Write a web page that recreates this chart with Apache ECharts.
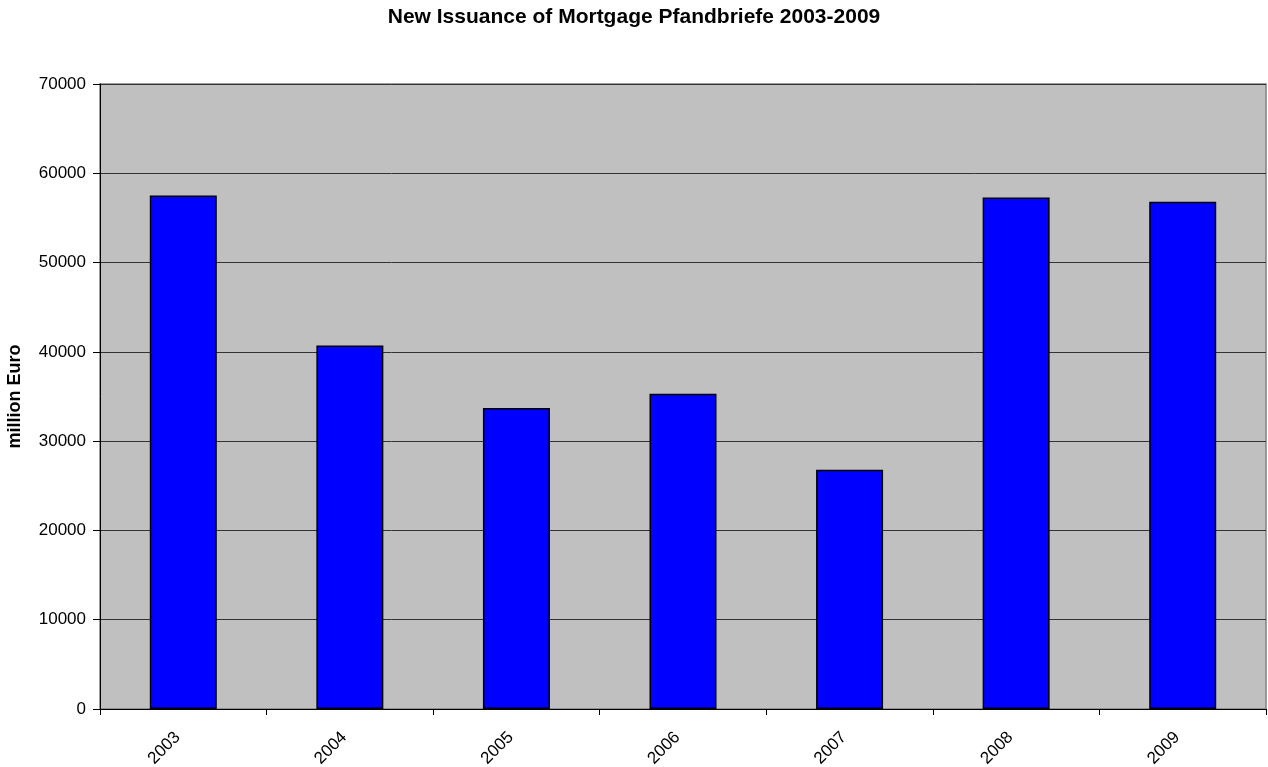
<!DOCTYPE html>
<html>
<head>
<meta charset="utf-8">
<script src="https://cdn.jsdelivr.net/npm/echarts@6/dist/echarts.min.js"></script>
<style>html,body{margin:0;padding:0;background:#fff;}#c{width:1268px;height:767px;}</style>
</head>
<body>
<div id="c"></div>
<script>
var categories = ['2003', '2004', '2005', '2006', '2007', '2008', '2009'];
var issuance = [57500, 40700, 33700, 35300, 26800, 57300, 56800];
var yTicks = [0, 10000, 20000, 30000, 40000, 50000, 60000, 70000];

var chart = echarts.init(document.getElementById('c'), null, {renderer: 'canvas'});
var font = 'Liberation Sans, Arial, sans-serif';
chart.setOption({
  animation: false,
  backgroundColor: '#ffffff',
  title: {
    text: 'New Issuance of Mortgage Pfandbriefe 2003-2009',
    left: 'center', top: 2,
    textStyle: {fontFamily: font, fontSize: 21, fontWeight: 'bold', color: '#000'}
  },
  grid: {
    left: 100, right: 2, top: 84, bottom: 58,
    outerBoundsMode: 'none', containLabel: false,
    show: true, backgroundColor: '#c0c0c0', borderColor: '#808080', borderWidth: 1.5
  },
  xAxis: {
    type: 'category', data: categories,
    axisLine: {lineStyle: {color: '#000', width: 1}},
    axisTick: {show: true, alignWithLabel: false, length: 6, lineStyle: {color: '#000'}},
    axisLabel: {rotate: 45, fontFamily: font, fontSize: 17, color: '#000', margin: 20,
      padding: [0, 8, 0, 0]}
  },
  yAxis: {
    type: 'value', min: yTicks[0], max: yTicks[yTicks.length - 1], interval: 10000,
    name: 'million Euro', nameLocation: 'middle', nameGap: 76,
    nameTextStyle: {fontFamily: font, fontSize: 18, fontWeight: 'bold', color: '#000'},
    axisLine: {show: true, lineStyle: {color: '#000', width: 1}},
    axisTick: {show: true, length: 7, lineStyle: {color: '#000'}},
    axisLabel: {fontFamily: font, fontSize: 17, color: '#000', margin: 14,
      formatter: function (v) { return String(v); }},
    splitLine: {show: true, lineStyle: {color: '#333', width: 1}}
  },
  series: [{
    type: 'bar', data: issuance, barWidth: 67,
    itemStyle: {color: '#0000ff', borderColor: '#000', borderWidth: 1.5}
  }]
});
</script>
</body>
</html>
